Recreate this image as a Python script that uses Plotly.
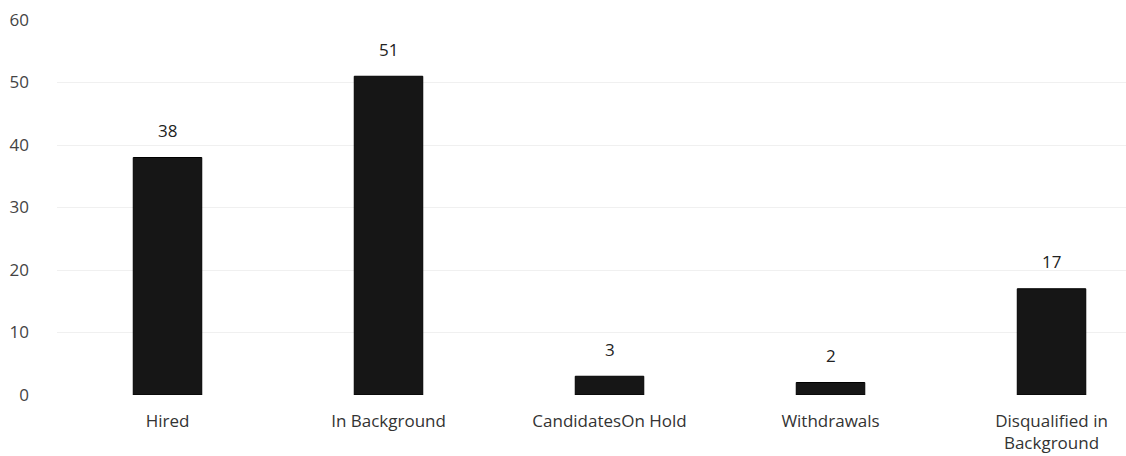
import plotly.graph_objects as go

categories = ["Hired", "In Background", "CandidatesOn Hold", "Withdrawals", "Disqualified in<br>Background"]
values = [38, 51, 3, 2, 17]
tick_vals = [0, 10, 20, 30, 40, 50, 60]

xs = list(range(len(categories)))

fig = go.Figure(go.Bar(
    x=xs,
    y=values,
    marker=dict(color="#161616", line=dict(color="#000000", width=1)),
    width=0.31,
))

for x, v in zip(xs, values):
    fig.add_annotation(
        x=x, y=v, text=str(v), showarrow=False,
        yanchor="middle", yshift=27,
        font=dict(size=17, color="#222222", family="Open Sans"),
    )

fig.update_layout(
    width=1126, height=456,
    margin=dict(l=57, r=0, t=20, b=61),
    paper_bgcolor="white", plot_bgcolor="white",
    font=dict(family="Open Sans", size=17, color="#333333"),
    showlegend=False,
    xaxis=dict(
        tickvals=xs,
        ticktext=categories,
        range=[-0.5, 4.337],
        showgrid=False, zeroline=False, showline=False,
        ticks="", ticklabelstandoff=14,
        tickfont=dict(size=17, color="#333333"),
    ),
    yaxis=dict(
        range=[0, 60],
        tickvals=tick_vals,
        showgrid=True, gridcolor="#f0f0f0", gridwidth=1,
        zeroline=False, showline=False, ticks="",
        ticklabelstandoff=27,
        tickfont=dict(size=17, color="#444444"),
    ),
)

fig.write_html("out.html")
